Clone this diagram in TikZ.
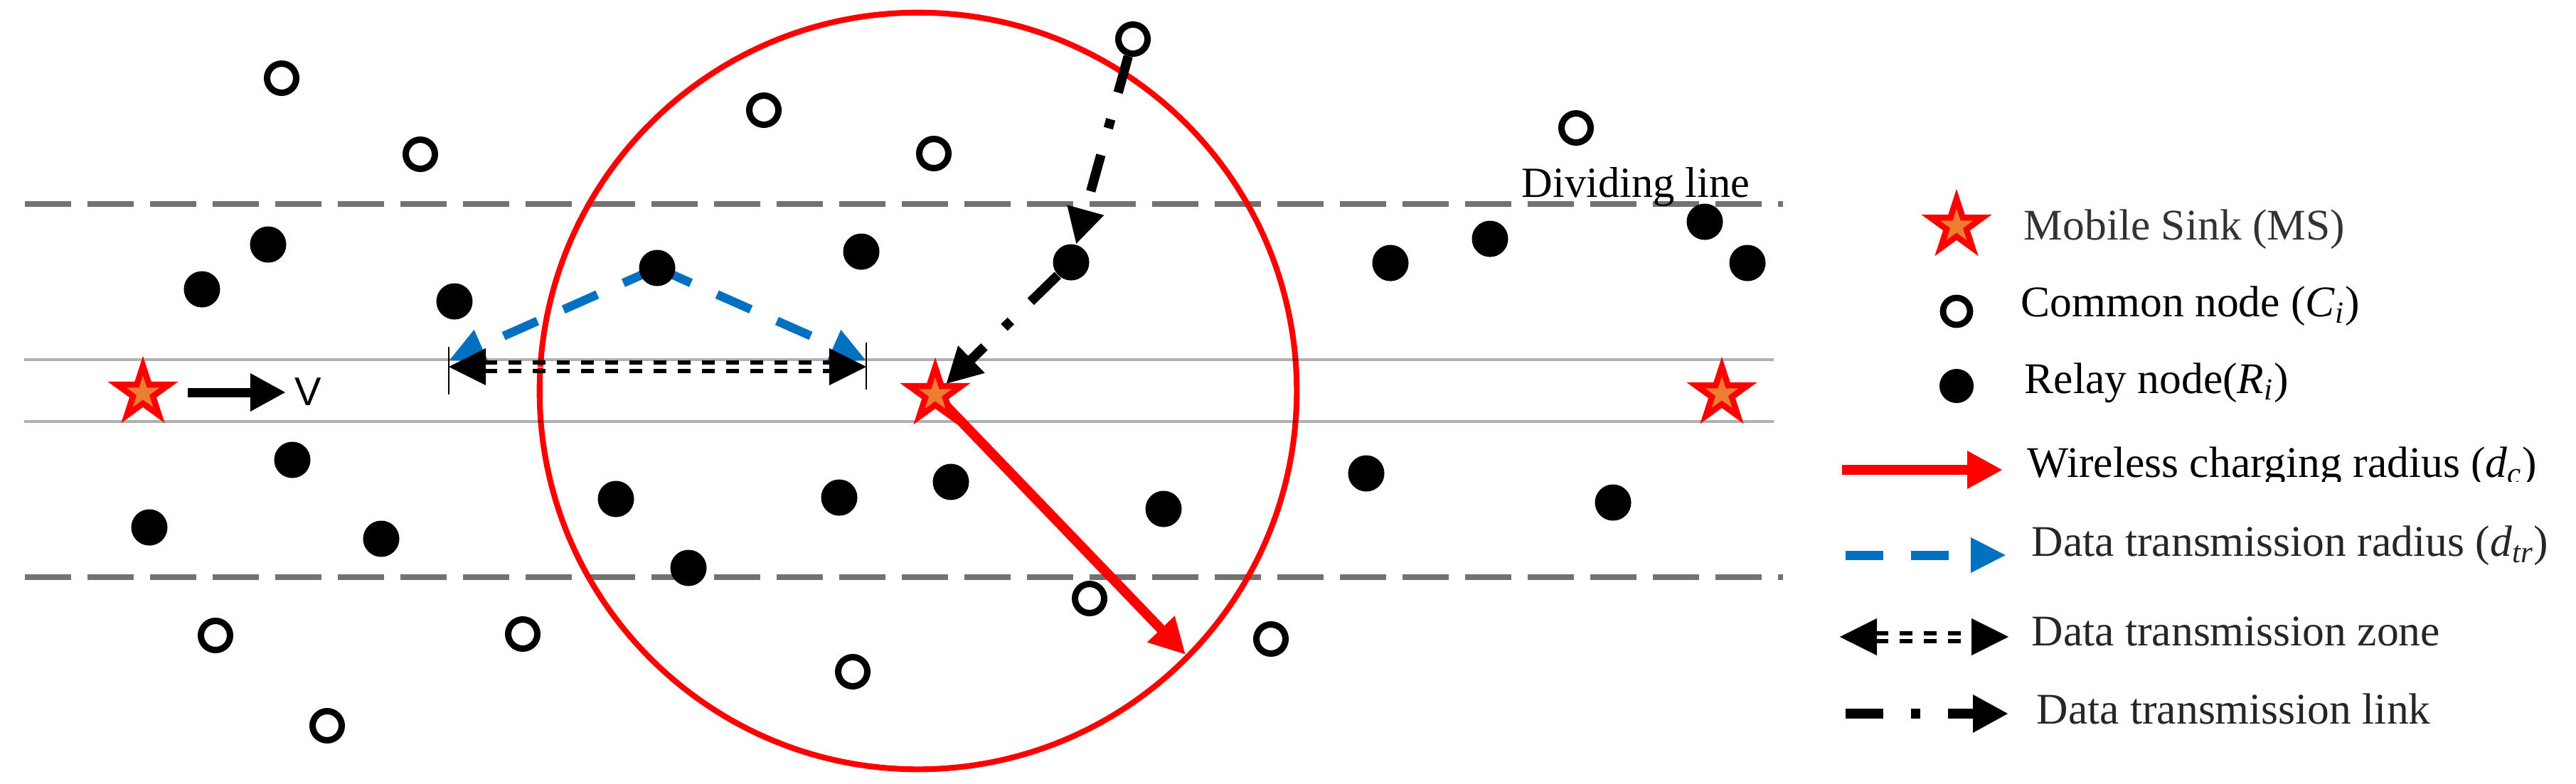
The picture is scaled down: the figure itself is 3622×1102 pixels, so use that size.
\documentclass[tikz,border=0pt]{standalone}
\usepackage{fontspec}
\setmainfont{Liberation Serif}
\newfontfamily\sansV{Liberation Sans}
\usetikzlibrary{arrows.meta,shapes.geometric}
\definecolor{msred}{HTML}{FF0000}
\definecolor{msorange}{HTML}{ED7D31}
\definecolor{dtblue}{HTML}{0070C0}
\definecolor{divgrey}{HTML}{767171}
\definecolor{txtgrey}{HTML}{333333}
\definecolor{txtdark}{HTML}{262626}
\pgfdeclarelayer{bg}
\pgfsetlayers{bg,main}
\begin{document}
\begin{tikzpicture}[x=0.01cm,y=-0.01cm,
  relay/.style={circle,fill=black,inner sep=0pt,minimum size=0.51cm},
  common/.style={circle,draw=black,fill=white,line width=2.56pt,inner sep=0pt,minimum size=0.41cm},
  sink/.style={star,star points=5,star point ratio=2.618,fill=msorange,draw=msred,line width=2.4pt,inner sep=0pt,minimum size=0.77cm},
  divline/.style={draw=divgrey,line width=2.3pt,dash pattern=on 0.65cm off 0.23cm},
  laneline/.style={draw=black,opacity=0.31,line width=1.4pt},
  bigtip/.style={-{Triangle[length=0.5cm,width=0.5cm]}},
  wcharge/.style={draw=msred,line width=3.9pt,bigtip},
  dtrad/.style={draw=dtblue,line width=3.5pt,dash pattern=on 0.52cm off 0.4cm,-{Triangle[length=0.5cm,width=0.46cm]}},
  dtlink/.style={draw=black,line width=3.8pt,dash pattern=on 0.53cm off 0.39cm on 0.13cm off 0.39cm,bigtip},
  zonedash/.style={draw=black,line width=1.7pt,dash pattern=on 0.18cm off 0.16cm},
  zonetips/.style={draw=white,line width=0.1pt,{Triangle[length=0.52cm,width=0.52cm,color=black,fill=black]}-{Triangle[length=0.52cm,width=0.52cm,color=black,fill=black]}},
  tick/.style={draw=black,line width=0.4pt},
  legtext/.style={anchor=base west,inner sep=0pt,font=\fontsize{17.5pt}{20pt}\selectfont},
]
\useasboundingbox (0,0) rectangle (3622,1102);

% ---------- nodes ----------
\foreach \n/\x/\y in {r1/377/344, r2/284/407, r3/639/424, r4/924/377, r5/1211/354,
  r6/1506/369, r7/1955/370, r8/2095/336, r9/2397/312, r10/2457/370,
  r11/411/647, r12/210/742, r13/536/758, r14/866/702, r15/1180/700,
  r16/1337/678, r17/1636/716, r18/968/799, r19/1921/666, r20/2268/707}
  \node[relay] (\n) at (\x,\y) {};
\foreach \n/\x/\y in {c1/396/110, c2/591/217, c3/1074/155, c4/1313/216, c5/1593/55,
  c6/2216/180, c7/303/894, c8/460/1021, c9/735/892, c10/1199/945, c11/1532/842, c12/1787/899}
  \node[common] (\n) at (\x,\y) {};
\node[sink] (s1) at (201,553) {};
\node[sink] (s2) at (1315,555) {};
\node[sink] (s3) at (2421,554) {};

\coordinate (dl1) at (35,287);  \coordinate (dl2) at (2507,287);
\coordinate (dl3) at (35,812);  \coordinate (dl4) at (2507,812);
\coordinate (ln1) at (34,506);  \coordinate (ln2) at (2494,506);
\coordinate (ln3) at (34,593);  \coordinate (ln4) at (2494,593);
\coordinate (bl) at (631,507);  \coordinate (br) at (1218,507);
\coordinate (zl) at (631,516);  \coordinate (zr) at (1218,516);
\coordinate (rtip) at (1667,921);
\coordinate (v1) at (264,552);  \coordinate (v2) at (402,552);

\node[anchor=base,inner sep=0pt,font=\sansV\fontsize{16pt}{18pt}\selectfont] (vlab) at (433,570) {V};
\node[anchor=base west,inner sep=0pt,font=\fontsize{17.2pt}{20pt}\selectfont] (divtxt) at (2139,277) {Dividing line};

\begin{pgfonlayer}{bg}
  \draw[divline] (dl1) -- (dl2);
  \draw[divline] (dl3) -- (dl4);
  \node[circle,draw=msred,line width=2.3pt,inner sep=0pt,minimum size=10.64cm] (zone) at (1291,550) {};
  \draw[laneline] (ln1) -- (ln2);
  \draw[laneline] (ln3) -- (ln4);
  \draw[dtrad] (r4.center) -- (bl);
  \draw[dtrad] (r4.center) -- (br);
  \draw[zonedash,shorten <=0.5cm,shorten >=0.5cm] ([yshift=0.057cm]zl) -- ([yshift=0.057cm]zr);
  \draw[zonedash,shorten <=0.5cm,shorten >=0.5cm] ([yshift=-0.057cm]zl) -- ([yshift=-0.057cm]zr);
  \draw[zonetips] (zl) -- (zr);
  \draw[tick] ([yshift=0.28cm]zl) -- ([yshift=-0.39cm]zl);
  \draw[tick] ([yshift=0.34cm]zr) -- ([yshift=-0.32cm]zr);
  \draw[dtlink] (c5) -- (r6);
  \draw[dtlink,shorten >=0.21cm] (r6) -- (s2.center);
  \draw[wcharge] (s2.center) -- (rtip);
  \draw[draw=black,line width=3.7pt,bigtip] (v1) -- (v2);
\end{pgfonlayer}

% ---------- legend ----------
\node[sink] (ls) at (2751,318) {};
\node[common,minimum size=0.38cm,line width=2.5pt] (lc) at (2751,438) {};
\node[relay,minimum size=0.48cm] (lr) at (2751,543) {};
\coordinate (la1) at (2590,661); \coordinate (la2) at (2816,661);
\coordinate (lb1) at (2595,781); \coordinate (lb2) at (2821,781);
\coordinate (lz1) at (2587,896); \coordinate (lz2) at (2824,896);
\coordinate (lk1) at (2595,1004); \coordinate (lk2) at (2824,1004);
\draw[draw=msred,line width=4pt,bigtip] (la1) -- (la2);
\draw[dtrad,line width=3.7pt,dash pattern=on 0.53cm off 0.39cm] (lb1) -- (lb2);
\draw[zonedash,shorten <=0.5cm,shorten >=0.5cm] ([yshift=0.055cm]lz1) -- ([yshift=0.055cm]lz2);
\draw[zonedash,shorten <=0.5cm,shorten >=0.5cm] ([yshift=-0.055cm]lz1) -- ([yshift=-0.055cm]lz2);
\draw[zonetips] (lz1) -- (lz2);
\draw[dtlink,line width=4.2pt] (lk1) -- (lk2);

\node[legtext,text=txtgrey] (t1) at (2845,337) {Mobile Sink (MS)};
\node[legtext] (t2) at (2841,445) {Common node (\textit{C}\textsubscript{\textit{i}})};
\node[legtext] (t3) at (2846,553) {Relay node(\textit{R}\textsubscript{\textit{i}})};
\begin{scope}
  \clip (2840,600) rectangle (3622,677);
  \node[legtext] (t4) at (2850,671) {Wireless charging radius (\textit{d}\textsubscript{\textit{c}})};
\end{scope}
\node[legtext,text=txtdark] (t5) at (2856,782) {Data transmission radius (\textit{d}\textsubscript{\textit{tr}})};
\node[legtext,text=txtdark] (t6) at (2856,908) {Data transmission zone};
\node[legtext,text=txtdark] (t7) at (2863,1018) {Data transmission link};
\end{tikzpicture}
\end{document}
